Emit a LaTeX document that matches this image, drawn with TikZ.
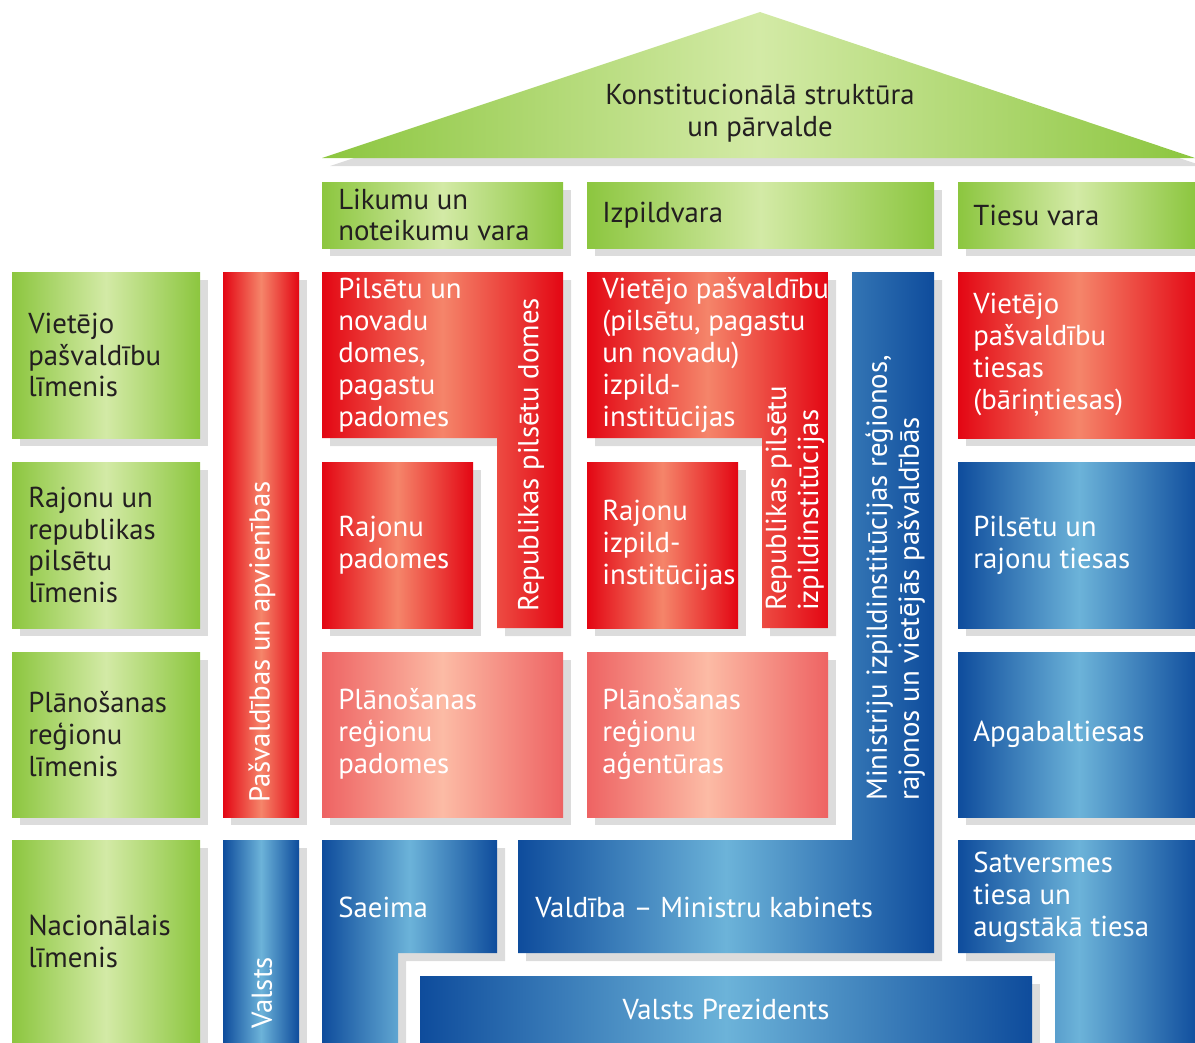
\documentclass[tikz,border=0pt]{standalone}
\usepackage{fontspec}
\setmainfont{PT Sans}
\usetikzlibrary{positioning}
\definecolor{grnedge}{HTML}{8CC63F}
\definecolor{grnmid}{HTML}{D3EAA6}
\definecolor{rededge}{HTML}{E30613}
\definecolor{redmid}{HTML}{F5856A}
\definecolor{pinkedge}{HTML}{EE6363}
\definecolor{pinkmid}{HTML}{FCBBA5}
\definecolor{bluedge}{HTML}{0E4C9C}
\definecolor{blumid}{HTML}{6CB3D9}
\definecolor{shgray}{HTML}{DCDCDC}
\definecolor{txtdark}{HTML}{231F20}
\tikzstyle{shadowed} = [preaction={fill=shgray, transform canvas={shift={(8,8)}}}]
\tikzstyle{greenbox} = [shadowed, left color=grnedge, right color=grnedge, middle color=grnmid]
\tikzstyle{redbox} = [shadowed, left color=rededge, right color=rededge, middle color=redmid]
\tikzstyle{pinkbox} = [shadowed, left color=pinkedge, right color=pinkedge, middle color=pinkmid]
\tikzstyle{bluebox} = [shadowed, left color=bluedge, right color=bluedge, middle color=blumid]
\tikzstyle{darktxt} = [text=txtdark, align=left, anchor=west, inner sep=0pt, font=\fontsize{20.5}{22.7}\selectfont]
\tikzstyle{lighttxt} = [text=white, align=left, anchor=west, inner sep=0pt, font=\fontsize{20.5}{22.7}\selectfont]

\begin{document}
\begin{tikzpicture}[x=0.25mm, y=-0.25mm]
  \useasboundingbox (0,0) rectangle (1195,1042);
  % roof
  \path[greenbox] (322,158) -- (760,12) -- (1195,158) -- cycle;
  \node[darktxt, align=center, anchor=center] (roof) at (760,113) {Konstitucionālā struktūra\\un pārvalde};
  
  % column heads
  \path[greenbox] (322,182) rectangle (563,248);
  \path[greenbox] (587,182) rectangle (934,248);
  \path[greenbox] (958,182) rectangle (1195,248);
  \node[darktxt] (legis) at (338,215) {Likumu un\\noteikumu vara};
  \node[darktxt] (exec) at (602,215) {Izpildvara};
  \node[darktxt] (judic) at (973,215) {Tiesu vara};
  
  % levels
  \path[greenbox] (12,272) rectangle (200,438);
  \path[greenbox] (12,462) rectangle (200,628);
  \path[greenbox] (12,652) rectangle (200,817);
  \path[greenbox] (12,840) rectangle (200,1050);
  \node[darktxt] (lvlloc) at (28,355) {Vietējo\\pašvaldību\\līmenis};
  \node[darktxt] (lvlraj) at (28,545) {Rajonu un\\republikas\\pilsētu\\līmenis};
  \node[darktxt] (lvlplan) at (28,734) {Plānošanas\\reģionu\\līmenis};
  \node[darktxt] (lvlnat) at (28,941) {Nacionālais\\līmenis};
  
  % side bars
  \path[redbox] (223,272) rectangle (299,817);
  \path[bluebox] (223,840) rectangle (299,1050);
  \node[lighttxt, rotate=90] (pasv) at (262,803) {Pašvaldības un apvienības};
  \node[lighttxt, rotate=90] (valsts) at (262,1029) {Valsts};
  
  % legislative
  \path[redbox] (322,272) -- (563,272) -- (563,628) -- (497,628) -- (497,438) -- (322,438) -- cycle;
  \node[lighttxt] (domes) at (338,355) {Pilsētu un\\novadu\\domes,\\pagastu\\padomes};
  \node[lighttxt, rotate=90] (repdomes) at (531,612) {Republikas pilsētu domes};
  \path[redbox] (322,462) rectangle (473,628);
  \node[lighttxt] (rajpad) at (338,545) {Rajonu\\padomes};
  \path[pinkbox] (322,652) rectangle (563,817);
  \node[lighttxt] (planpad) at (338,734) {Plānošanas\\reģionu\\padomes};
  \path[bluebox] (322,840) -- (497,840) -- (497,953) -- (398,953) -- (398,1050) -- (322,1050) -- cycle;
  \node[lighttxt] (saeima) at (338,907) {Saeima};
  
  % executive
  \path[redbox] (587,272) -- (828,272) -- (828,628) -- (762,628) -- (762,438) -- (587,438) -- cycle;
  \node[lighttxt] (vietizp) at (602,355) {Vietējo pašvaldību\\(pilsētu, pagastu\\un novadu)\\izpild-\\institūcijas};
  \node[lighttxt, rotate=90] (repizp) at (795,611) {Republikas pilsētu\\izpildinstitūcijas};
  \path[redbox] (587,462) rectangle (738,628);
  \node[lighttxt] (rajizp) at (602,545) {Rajonu\\izpild-\\institūcijas};
  \path[pinkbox] (587,652) rectangle (828,817);
  \node[lighttxt] (planag) at (602,734) {Plānošanas\\reģionu\\aģentūras};
  \path[bluebox] (518,840) -- (852,840) -- (852,272) -- (934,272) -- (934,953) -- (518,953) -- cycle;
  \node[lighttxt] (valdiba) at (535,907) {Valdība – Ministru kabinets};
  \node[lighttxt, rotate=90] (ministr) at (895,801) {Ministriju izpildinstitūcijas reģionos,\\rajonos un vietējās pašvaldībās};
  \path[bluebox] (420,976) rectangle (1032,1050);
  \node[lighttxt, anchor=center] (prez) at (726,1009) {Valsts Prezidents};
  
  % judicial
  \path[redbox] (958,272) rectangle (1200,438);
  \node[lighttxt] (barin) at (973,355) {Vietējo\\pašvaldību\\tiesas\\(bāriņtiesas)};
  \path[bluebox] (958,462) rectangle (1200,628);
  \node[lighttxt] (rajties) at (973,545) {Pilsētu un\\rajonu tiesas};
  \path[bluebox] (958,652) rectangle (1200,817);
  \node[lighttxt] (apgab) at (973,734) {Apgabaltiesas};
  \path[bluebox] (958,840) -- (1200,840) -- (1200,1050) -- (1055,1050) -- (1055,953) -- (958,953) -- cycle;
  \node[lighttxt] (satv) at (973,897) {Satversmes\\tiesa un\\augstākā tiesa};
\end{tikzpicture}
\end{document}
